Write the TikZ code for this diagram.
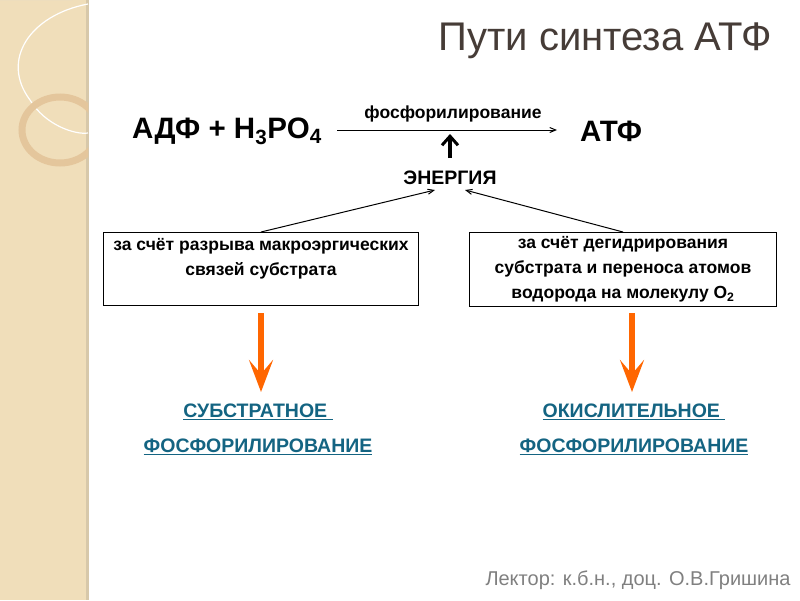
\documentclass[tikz,border=0pt]{standalone}
\usepackage{fontspec}
\setmainfont{Liberation Sans}
\usetikzlibrary{arrows.meta}
\definecolor{beige}{RGB}{240,222,186}
\definecolor{edgeb}{RGB}{215,200,170}
\definecolor{ttl}{RGB}{70,60,55}
\definecolor{lnk}{RGB}{20,100,130}
\definecolor{org}{RGB}{255,102,0}
\tikzset{
 box/.style={draw,line width=1.2pt,minimum width=315pt,minimum height=73pt,align=center,font=\bfseries\fontsize{17.5}{25}\selectfont,anchor=north,inner sep=4pt},
 thin/.style={-{Straight Barb[length=6pt,width=5pt]},line width=1pt},
 oarr/.style={org,line width=6pt,-{Stealth[length=32pt,width=24pt,inset=14pt]}},
 lnk/.style={text=lnk,font=\bfseries\fontsize{19.5}{22}\selectfont}
}
\begin{document}
\begin{tikzpicture}[x=1pt,y=-1pt]
\useasboundingbox (0,0) rectangle (800,600);
\fill[white] (0,0) rectangle (800,600);
\fill[beige] (0,0) rectangle (88,600);
\fill[edgeb] (86,0) rectangle (89,600);
\begin{scope}
\clip (0,0) rectangle (88,600);
\fill[black!15] (0,0) -- (72,0) arc[start angle=0,end angle=-90,x radius=72,y radius=63] -- cycle;
\draw[white,line width=1.2pt] (88,4) .. controls (30,15) and (0,60) .. (30,100) .. controls (45,125) and (75,135) .. (88,133);
\draw[brown!25!beige,line width=7pt] (60,130) circle[x radius=38,y radius=33];
\end{scope}
\node (title) [text=ttl,font=\fontsize{40}{44}\selectfont] at (605,41) {Пути синтеза АТФ};
\node (adf) [font=\bfseries\fontsize{29.5}{32}\selectfont] at (227,131) {АДФ + H\textsubscript{3}PO\textsubscript{4}};
\node (atf) [font=\bfseries\fontsize{29.5}{32}\selectfont] at (611,131) {АТФ};
\coordinate (a1) at (337,130); \coordinate (a2) at (557,130);
\draw[thin] (a1) -- (a2);
\node (ph) [font=\bfseries\fontsize{17.5}{20}\selectfont] at (453,114) {фосфорилирование};
\coordinate (u1) at (450,158); \coordinate (u2) at (450,134);
\draw[line width=4pt,-{Straight Barb[length=9pt,width=16pt,line width=3pt]}] (u1) -- (u2);
\node (en) [font=\bfseries\fontsize{19.5}{22}\selectfont] at (450,178) {ЭНЕРГИЯ};
\node (b1) [box] at (261,232) {за счёт разрыва макроэргических\\связей субстрата\\ };
\node (b2) [box,minimum width=307pt] at (623,232) {за счёт дегидрирования\\субстрата и переноса атомов\\водорода на молекулу O\textsubscript{2}};
\coordinate (e1) at (435,190); \coordinate (e2) at (465,190);
\draw[thin] (b1.north) -- (e1);
\draw[thin] (b2.north) -- (e2);
\node (s1) [lnk] at (258,412) {\underline{СУБСТРАТНОЕ }};
\node (s2) [lnk] at (258,447) {\underline{ФОСФОРИЛИРОВАНИЕ}};
\node (o1) [lnk] at (634,412) {\underline{ОКИСЛИТЕЛЬНОЕ }};
\node (o2) [lnk] at (634,447) {\underline{ФОСФОРИЛИРОВАНИЕ}};
\coordinate (r1) at (261,313); \coordinate (r2) at (261,392);
\coordinate (r3) at (632,313); \coordinate (r4) at (632,392);
\draw[oarr] (r1) -- (r2);
\draw[oarr] (r3) -- (r4);
\node (lec) [text=black!50,font=\fontsize{20}{22}\selectfont] at (638,580) {Лектор: к.б.н., доц. О.В.Гришина};
\end{tikzpicture}
\end{document}
